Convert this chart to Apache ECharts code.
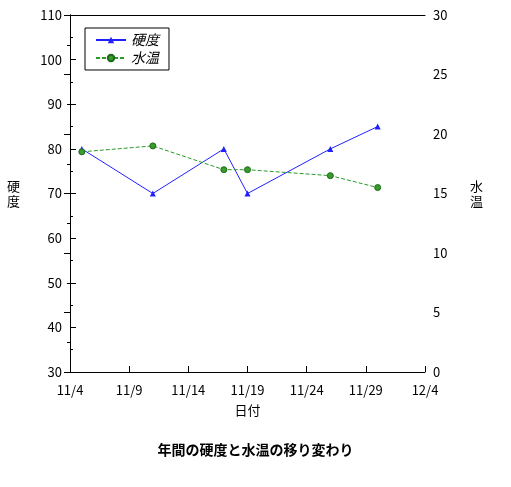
<!DOCTYPE html>
<html><head><meta charset="utf-8">
<script src="https://cdn.jsdelivr.net/npm/echarts@6/dist/echarts.min.js"></script>
<style>body{margin:0}#chartDom{width:511px;height:487px}</style>
</head><body><div id="chartDom"></div>
<script>
// データ
var dates = ['11/5', '11/11', '11/17', '11/19', '11/26', '11/30'];
var hardness = [80, 70, 80, 70, 80, 85];
var waterTemp = [18.5, 19.0, 17.0, 17.0, 16.5, 15.5];
var tickLabels = ['11/4', '11/9', '11/14', '11/19', '11/24', '11/29', '12/4'];

var font = 'Noto Sans CJK JP';
function dayOffset(s) {
    var p = s.split('/');
    var d = new Date(2020, +p[0] - 1, +p[1]);
    return Math.round((d - new Date(2020, 10, 4)) / 86400000);
}
var xs = dates.map(dayOffset);

var myChart = echarts.init(document.getElementById('chartDom'));
var axisCommon = {
    axisLine: { show: true, lineStyle: { color: '#000' } },
    axisTick: { inside: true, length: 6, lineStyle: { color: '#000' } },
    minorTick: { show: true, splitNumber: 2, length: 3, lineStyle: { color: '#000' } },
    axisLabel: { color: '#000', fontSize: 13, fontFamily: font },
    splitLine: { show: false }
};
option = {
    animation: false,
    textStyle: { fontFamily: font },
    title: { text: '年間の硬度と水温の移り変わり', left: 'center', bottom: 25,
        textStyle: { fontSize: 14, fontWeight: 'bold', color: '#000', fontFamily: font } },
    legend: {
        left: 85, top: 28, orient: 'vertical', itemGap: 4, itemWidth: 30, itemHeight: 8,
        borderColor: '#000', borderWidth: 1, padding: [5, 10],
        textStyle: { fontStyle: 'italic', fontSize: 14, color: '#000' },
        data: ['硬度', '水温']
    },
    grid: { left: 70, right: 86, top: 15, bottom: 115 },
    xAxis: [
        Object.assign({}, axisCommon, {
            type: 'value', min: 0, max: 30, interval: 5,
            name: '日付', nameLocation: 'middle', nameGap: 32,
            nameTextStyle: { fontSize: 13, color: '#000' },
            axisLabel: Object.assign({}, axisCommon.axisLabel, { margin: 12,
                formatter: function (v) { return tickLabels[v / 5]; } }),
            minorTick: { show: false }
        }),
        { type: 'value', position: 'top', min: 0, max: 30,
            axisLine: { show: true, lineStyle: { color: '#000' } },
            axisTick: { show: false }, axisLabel: { show: false }, splitLine: { show: false } }
    ],
    yAxis: [
        Object.assign({}, axisCommon, { type: 'value', min: 30, max: 110, interval: 10,
            name: '硬\n度', nameLocation: 'middle', nameGap: 50, nameRotate: 0,
            nameTextStyle: { fontSize: 13, color: '#000', lineHeight: 15 } }),
        Object.assign({}, axisCommon, { type: 'value', min: 0, max: 30, interval: 5,
            name: '水\n温', nameLocation: 'middle', nameGap: 45, nameRotate: 0,
            nameTextStyle: { fontSize: 13, color: '#000', lineHeight: 15 } })
    ],
    series: [
        { name: '硬度', type: 'line', yAxisIndex: 0,
            data: xs.map(function (x, i) { return [x, hardness[i]]; }),
            symbol: 'triangle', symbolSize: 6,
            lineStyle: { color: '#2020ff', width: 1 }, itemStyle: { color: '#2020ff' } },
        { name: '水温', type: 'line', yAxisIndex: 1,
            data: xs.map(function (x, i) { return [x, waterTemp[i]]; }),
            symbol: 'circle', symbolSize: 6,
            lineStyle: { color: '#2a9a2a', width: 1, type: [4, 2] },
            itemStyle: { color: '#3a9a2a', borderColor: '#1a6a1a', borderWidth: 1 } }
    ]
};
myChart.setOption(option);
</script></body></html>
